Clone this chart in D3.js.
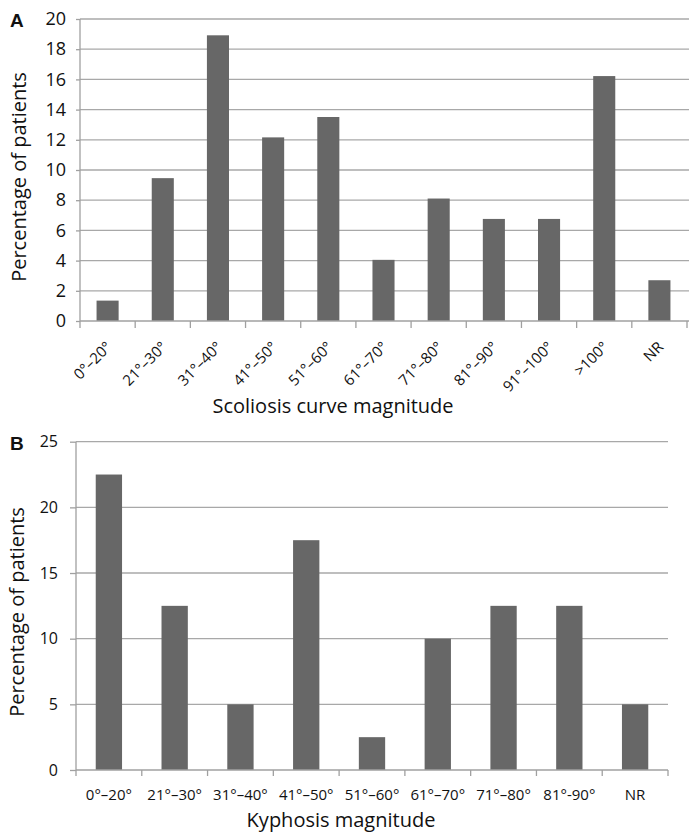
<!DOCTYPE html>
<html>
<head>
<meta charset="utf-8">
<script src="https://cdn.jsdelivr.net/npm/d3@7"></script>
<style>
  html, body { margin: 0; padding: 0; background: #fff; }
  svg { display: block; }
  text { font-family: "Open Sans", "Noto Sans", sans-serif; fill: #111; }
</style>
</head>
<body>
<svg id="chart" width="689" height="834"></svg>
<script>
// ---- Data ----
const scolCategories = ["0°–20°", "21°–30°", "31°–40°", "41°–50°", "51°–60°", "61°–70°", "71°–80°", "81°–90°", "91°–100°", ">100°", "NR"];
const scolValues = [1.35, 9.46, 18.92, 12.16, 13.51, 4.05, 8.11, 6.76, 6.76, 16.22, 2.70];
const scolTicks = [0, 2, 4, 6, 8, 10, 12, 14, 16, 18, 20];

const kyphCategories = ["0°–20°", "21°–30°", "31°–40°", "41°–50°", "51°–60°", "61°–70°", "71°–80°", "81°-90°", "NR"];
const kyphValues = [22.5, 12.5, 5, 17.5, 2.5, 10, 12.5, 12.5, 5];
const kyphTicks = [0, 5, 10, 15, 20, 25];

const svg = d3.select("#chart");
const barColor = "#676767";
const gridColor = "#a8a8a8";
const axisColor = "#a0a0a0";

function panel(opts) {
  const g = svg.append("g");
  const x = d3.scaleBand().domain(opts.categories).range([opts.left, opts.right])
    .paddingInner(0.6).paddingOuter(0.3);
  const y = d3.scaleLinear().domain([0, opts.ymax]).range([opts.bottom, opts.top]);
  const step = x.step();
  const x0 = x.range()[0];

  // gridlines
  g.selectAll(".grid").data(opts.ticks.filter(t => t > 0)).enter().append("line")
    .attr("x1", opts.left).attr("x2", opts.gridRight)
    .attr("y1", d => y(d)).attr("y2", d => y(d))
    .attr("stroke", gridColor).attr("stroke-width", 1.3);

  // bars
  g.selectAll(".bar").data(opts.values).enter().append("rect")
    .attr("x", (d, i) => x(opts.categories[i]))
    .attr("width", x.bandwidth())
    .attr("y", d => y(d))
    .attr("height", d => y(0) - y(d))
    .attr("fill", barColor);

  // y axis
  const yAxis = d3.axisLeft(y).tickValues(opts.ticks).tickSize(opts.yTickLen).tickPadding(opts.yPad)
    .tickFormat(d3.format("d"));
  const ya = g.append("g").attr("transform", `translate(${opts.left},0)`).call(yAxis);
  ya.select(".domain").attr("stroke", axisColor).attr("stroke-width", 1.3)
    .attr("d", `M0,${opts.bottom}V${opts.top}`);
  ya.selectAll(".tick line").attr("stroke", axisColor).attr("stroke-width", 1.3);
  ya.selectAll(".tick text").attr("font-size", opts.yFont).attr("font-family", "Open Sans").attr("fill", "#111");

  // x axis baseline
  g.append("line").attr("x1", opts.left).attr("x2", opts.axisRight)
    .attr("y1", y(0)).attr("y2", y(0)).attr("stroke", axisColor).attr("stroke-width", 1.3);
  // boundary ticks
  const bounds = d3.range(opts.categories.length + 1).map(i => x0 + i * step);
  g.selectAll(".xt").data(bounds).enter().append("line")
    .attr("x1", d => d).attr("x2", d => d)
    .attr("y1", y(0)).attr("y2", y(0) + opts.xTickLen)
    .attr("stroke", axisColor).attr("stroke-width", 1.3);

  // x labels
  const lab = g.selectAll(".xl").data(opts.categories).enter().append("text")
    .attr("font-size", opts.xFont)
    .text(d => d);
  if (opts.rotate) {
    lab.attr("text-anchor", "end")
      .attr("transform", d => `translate(${x(d) + x.bandwidth() / 2 + opts.labDx},${y(0) + opts.labDy}) rotate(-45)`);
  } else {
    lab.attr("text-anchor", "middle")
      .attr("x", d => x(d) + x.bandwidth() / 2)
      .attr("y", y(0) + opts.labDy);
  }

  // axis titles
  g.append("text").attr("x", opts.xTitleX).attr("y", opts.xTitleY)
    .attr("text-anchor", "middle").attr("font-size", opts.titleFont).text(opts.xTitle);
  g.append("text")
    .attr("transform", `translate(${opts.yTitleX},${opts.yTitleY}) rotate(-90)`)
    .attr("text-anchor", "middle").attr("font-size", opts.titleFont).text("Percentage of patients");

  // panel letter
  g.append("text").attr("x", 10).attr("y", opts.letterY)
    .style("font-family", "'Liberation Sans', Arial, sans-serif")
    .attr("font-weight", "bold").attr("font-size", 19).text(opts.letter);
}

panel({
  categories: scolCategories, values: scolValues, ticks: scolTicks, ymax: 20,
  left: 80, right: 687, gridRight: 689, axisRight: 689, top: 19, bottom: 321,
  yTickLen: 4, yPad: 10, yFont: 18, xTickLen: 7, xFont: 15,
  rotate: true, labDx: 5, labDy: 27,
  xTitle: "Scoliosis curve magnitude", xTitleX: 333, xTitleY: 413, titleFont: 20,
  yTitleX: 26, yTitleY: 177, letter: "A", letterY: 27
});

panel({
  categories: kyphCategories, values: kyphValues, ticks: kyphTicks, ymax: 25,
  left: 76, right: 668, gridRight: 668, axisRight: 668, top: 441.7, bottom: 770,
  yTickLen: 6, yPad: 12, yFont: 16, xTickLen: 6, xFont: 15,
  rotate: false, labDy: 30,
  xTitle: "Kyphosis magnitude", xTitleX: 341, xTitleY: 827, titleFont: 20,
  yTitleX: 24, yTitleY: 612, letter: "B", letterY: 450
});
</script>
</body>
</html>
